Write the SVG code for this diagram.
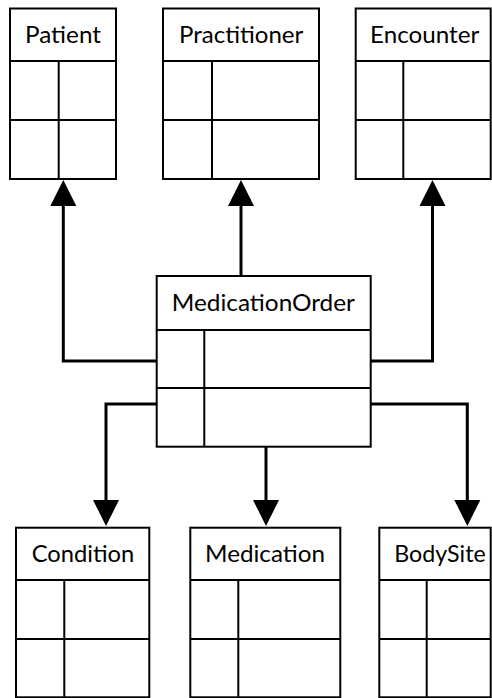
<svg xmlns="http://www.w3.org/2000/svg" width="492" height="698" viewBox="0 0 492 698">
<style>
.box{fill:#fff;stroke:#000;stroke-width:2}
.ln{stroke:#000;stroke-width:2;fill:none}
.lbl{font-family:Lato,"Open Sans","Liberation Sans",sans-serif;font-size:23px;fill:#000}
.con{stroke:#000;stroke-width:3;fill:none}
.ah{fill:#000}
</style>
<rect width="492" height="698" fill="#fff"/>
<g id="connectors">
<path class="con" d="M156.7,361 H63.3 V205"/>
<polygon class="ah" points="50.3,206 76.3,206 63.3,180"/>
<path class="con" d="M241,276 V205"/>
<polygon class="ah" points="228,206 254,206 241,180"/>
<path class="con" d="M370.7,361 H432.5 V205"/>
<polygon class="ah" points="419.5,206 445.5,206 432.5,180"/>
<path class="con" d="M156.7,404 H106 V501"/>
<polygon class="ah" points="93,500 119,500 106,526"/>
<path class="con" d="M266,446.7 V501"/>
<polygon class="ah" points="253,500 279,500 266,526"/>
<path class="con" d="M370.7,404 H467.3 V501"/>
<polygon class="ah" points="454.3,500 480.3,500 467.3,526"/>
</g>
<g id="patient">
<rect class="box" x="10" y="8.5" width="106" height="170.5"/>
<path class="ln" d="M10,61 H116 M10,120 H116 M58.7,61 V179"/>
<text class="lbl" x="25" y="43.3" textLength="76" lengthAdjust="spacingAndGlyphs">Patient</text>
</g>
<g id="practitioner">
<rect class="box" x="163" y="8.5" width="156" height="170.5"/>
<path class="ln" d="M163,61 H319 M163,120 H319 M212,61 V179"/>
<text class="lbl" x="179" y="43.3" textLength="124.3" lengthAdjust="spacingAndGlyphs">Practitioner</text>
</g>
<g id="encounter">
<rect class="box" x="355.7" y="8.5" width="135" height="170.5"/>
<path class="ln" d="M355.7,61 H490.7 M355.7,120 H490.7 M403.3,61 V179"/>
<text class="lbl" x="370" y="43.3" textLength="109.3" lengthAdjust="spacingAndGlyphs">Encounter</text>
</g>
<g id="medicationorder">
<rect class="box" x="156.7" y="276" width="214" height="170.7"/>
<path class="ln" d="M156.7,330 H370.7 M156.7,388 H370.7 M204.3,330 V446.7"/>
<text class="lbl" x="171.7" y="310.7" textLength="183.3" lengthAdjust="spacingAndGlyphs">MedicationOrder</text>
</g>
<g id="condition">
<rect class="box" x="16" y="527.7" width="133.3" height="169.6"/>
<path class="ln" d="M16,580 H149.3 M16,639 H149.3 M64.3,580 V697.3"/>
<text class="lbl" x="31.7" y="562.3" textLength="102.6" lengthAdjust="spacingAndGlyphs">Condition</text>
</g>
<g id="medication">
<rect class="box" x="190.3" y="527.7" width="150" height="169.6"/>
<path class="ln" d="M190.3,580 H340.3 M190.3,639 H340.3 M238.3,580 V697.3"/>
<text class="lbl" x="205" y="562.3" textLength="120" lengthAdjust="spacingAndGlyphs">Medication</text>
</g>
<g id="bodysite">
<rect class="box" x="379.3" y="527.7" width="111.4" height="169.6"/>
<path class="ln" d="M379.3,580 H490.7 M379.3,639 H490.7 M426.7,580 V697.3"/>
<text class="lbl" x="394.3" y="562.3" textLength="91.4" lengthAdjust="spacingAndGlyphs">BodySite</text>
</g>
</svg>
